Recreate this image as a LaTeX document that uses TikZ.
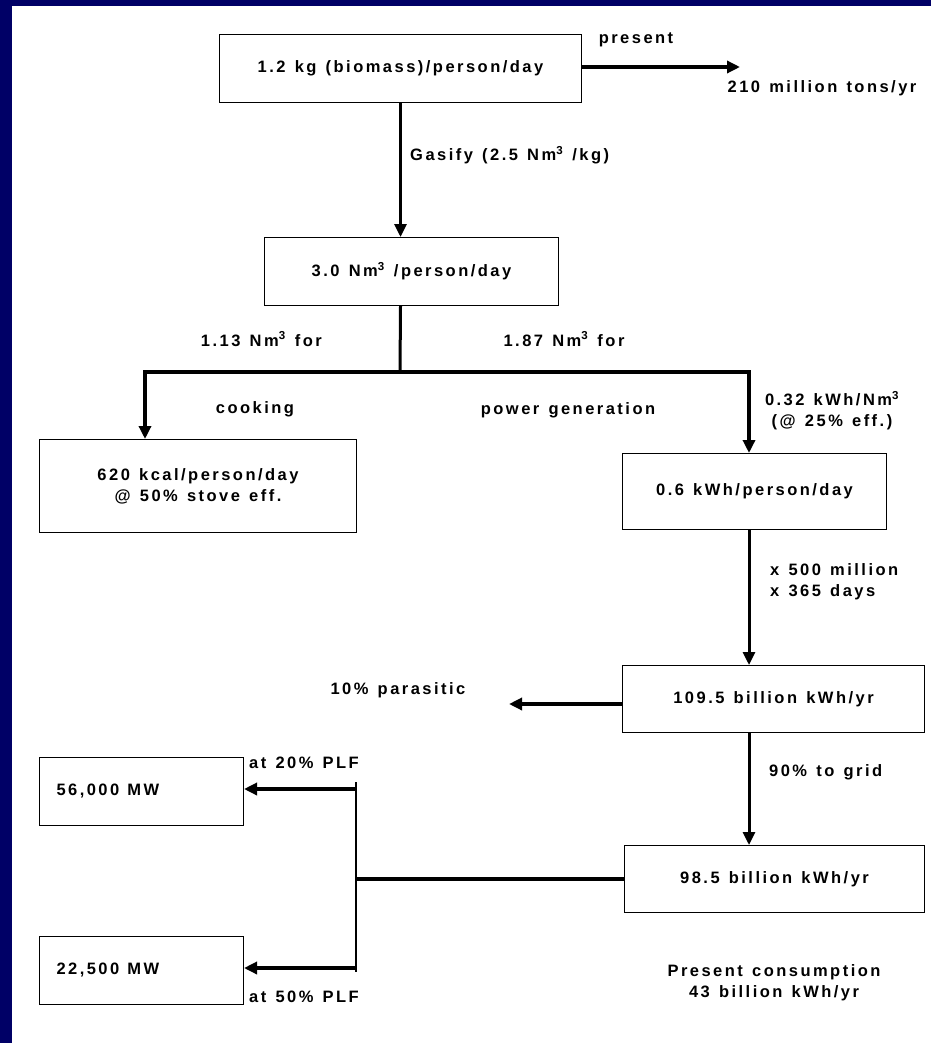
\documentclass[tikz,border=0pt]{standalone}
\usepackage{fontspec}
\newfontfamily\dfont[LetterSpace=15,WordSpace=1.3]{Liberation Sans}
\usetikzlibrary{arrows.meta}
\definecolor{navy}{RGB}{0,0,102}
\begin{document}
\begin{tikzpicture}[x=1pt,y=-1pt,
  lbl/.style={font=\dfont\bfseries\fontsize{16.5}{21}\selectfont, inner sep=0pt, text=black},
  box/.style={draw, line width=1pt, rectangle, inner sep=0pt, lbl, anchor=north west},
  flow/.style={line width=4pt, line join=miter, -{Triangle[length=13pt,width=12pt]}},
  thinflow/.style={line width=3pt, -{Triangle[length=13pt,width=12pt]}},
  wire/.style={line width=2.5pt}]
\fill[navy] (0,0) rectangle (931,1043);
\fill[white] (12,6) rectangle (931,1043);
\useasboundingbox (0,0) rectangle (931,1043);

% boxes
\node[box, minimum width=362pt, minimum height=68pt] (b1) at (219,34) {1.2 kg (biomass)/person/day};
\node[box, minimum width=294pt, minimum height=68pt] (b2) at (264,237) {3.0 Nm\textsuperscript{3} /person/day};
\node[box, minimum width=317pt, minimum height=93pt, align=center] (b3) at (39,439) {620 kcal/person/day\\@ 50\% stove eff.};
\node[box, minimum width=264pt, minimum height=76pt] (b4) at (622,453) {0.6 kWh/person/day};
\node[box, minimum width=302pt, minimum height=67pt] (b5) at (622,665) {109.5 billion kWh/yr};
\node[box, minimum width=300pt, minimum height=67pt] (b6) at (624,845) {98.5 billion kWh/yr};
\node[box, minimum height=68pt, text width=170pt, inner xsep=17pt, align=left] (b7) at (39,757) {56,000\hskip 8pt MW};
\node[box, minimum height=68pt, text width=170pt, inner xsep=17pt, align=left] (b8) at (39,936) {22,500\hskip 8pt MW};

% junction coordinates
\coordinate (j) at (400,372);
\coordinate (jl) at (145,372);
\coordinate (jr) at (749,372);
\coordinate (par) at (509,704);
\coordinate (kt) at (356,782);
\coordinate (kb) at (356,972);
\coordinate (a1) at (356,789);
\coordinate (a2) at (356,968);
\coordinate (out) at (740,67);

% connectors
\draw[flow] (b1.east |- out) -- (out);
\draw[thinflow] (b1.south) -- (b1.south |- b2.north);
\draw[wire, line width=3pt] (b1.south |- b2.south) -- (j);
\draw[flow] (j) -- (jl) -- (jl |- b3.north);
\draw[flow] (j) -- (jr) -- (jr |- b4.north);
\draw[thinflow] (b4.south -| jr) -- (b5.north -| jr);
\draw[thinflow] (b5.south -| jr) -- (b6.north -| jr);
\draw[flow] (b5.west |- par) -- (par);
\draw[wire, line width=3.5pt] (b6.west) -- (b6.west -| kt);
\draw[wire] (kt) -- (kb);
\draw[flow] (a1) -- (a1 -| b7.east);
\draw[flow] (a2) -- (a2 -| b8.east);

% labels
\node[lbl] (present) at (636,40) {present};
\node[lbl] (mtons) at (822,88) {210 million tons/yr};
\node[lbl, anchor=west] (gasify) at (410,155) {Gasify (2.5 Nm\textsuperscript{3} /kg)};
\node[lbl, anchor=east] (l113) at (322,339) {1.13 Nm\textsuperscript{3} for};
\node[lbl] (l187) at (564,339) {1.87 Nm\textsuperscript{3} for};
\node[lbl] (cook) at (255,409) {cooking};
\node[lbl] (pgen) at (568,410) {power generation};
\node[lbl, align=center] (eff) at (832,411) {0.32 kWh/Nm\textsuperscript{3}\\(@ 25\% eff.)};
\node[lbl, align=left, anchor=west] (mult) at (770,582) {x 500 million\\x 365 days};
\node[lbl] (para) at (398,690) {10\% parasitic};
\node[lbl, anchor=west] (grid) at (769,772) {90\% to grid};
\node[lbl, anchor=west] (plf20) at (249,763) {at 20\% PLF};
\node[lbl, anchor=west] (plf50) at (249,997) {at 50\% PLF};
\node[lbl, align=center] (cons) at (774,983) {Present consumption\\43 billion kWh/yr};
\end{tikzpicture}
\end{document}
